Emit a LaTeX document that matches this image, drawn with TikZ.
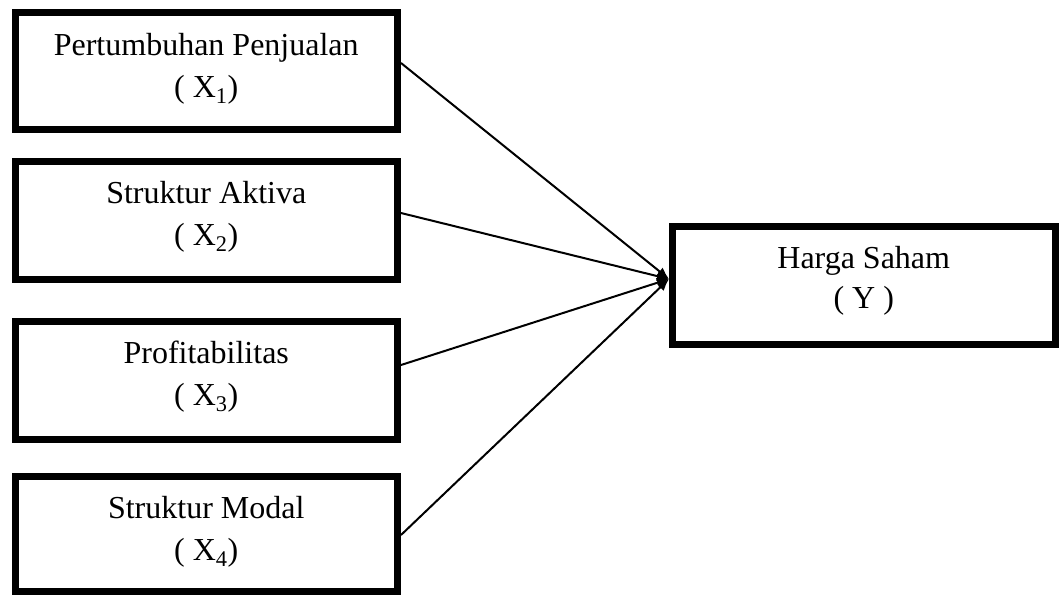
\documentclass[tikz,border=0pt]{standalone}
\usepackage{fontspec}
\setmainfont{Liberation Serif}
\usetikzlibrary{arrows.meta}
\tikzset{
  varbox/.style={draw=black, line width=7pt, minimum width=382.5pt, inner sep=0pt, rectangle},
  boxtext/.style={anchor=base, inner sep=0pt, font=\fontsize{32}{42}\selectfont},
  conn/.style={line width=2pt, -{Latex[length=12pt,width=10pt]}}
}
\begin{document}
\begin{tikzpicture}[x=1pt,y=-1pt]
\useasboundingbox (0,0) rectangle (1063,595);
% boxes
\node[varbox, minimum height=117pt] (b1) at (206.25,70.5) {};
\node[varbox, minimum height=118pt] (b2) at (206.25,220.5) {};
\node[varbox, minimum height=118pt] (b3) at (206.25,380.5) {};
\node[varbox, minimum height=115pt] (b4) at (206.25,534) {};
\node[varbox, minimum height=118pt] (y) at (863.75,285) {};
% texts
\node[boxtext] (t1a) at ([yshift=-46.5pt]b1.north) {Pertumbuhan Penjualan};
\node[boxtext] (t1b) at ([yshift=-88.5pt]b1.north) {( X\textsubscript{1})};
\node[boxtext] (t2a) at ([yshift=-45.5pt]b2.north) {Struktur Aktiva};
\node[boxtext] (t2b) at ([yshift=-87.5pt]b2.north) {( X\textsubscript{2})};
\node[boxtext] (t3a) at ([yshift=-45.5pt]b3.north) {Profitabilitas};
\node[boxtext] (t3b) at ([yshift=-87.5pt]b3.north) {( X\textsubscript{3})};
\node[boxtext] (t4a) at ([yshift=-45.5pt]b4.north) {Struktur Modal};
\node[boxtext] (t4b) at ([yshift=-87.5pt]b4.north) {( X\textsubscript{4})};
\node[boxtext] (tya) at ([yshift=-45.5pt]y.north) {Harga Saham};
\node[boxtext] (tyb) at ([yshift=-85.5pt]y.north) {( Y )};
% connector ends
\coordinate (s1) at ([yshift=7.5pt]b1.east);
\coordinate (s2) at ([yshift=7.5pt]b2.east);
\coordinate (s3) at ([yshift=15.5pt]b3.east);
\coordinate (s4) at ([yshift=-1pt]b4.east);
\coordinate (tip) at ([yshift=6pt]y.west);
\draw[conn] (s1) -- (tip);
\draw[conn] (s2) -- (tip);
\draw[conn] (s3) -- (tip);
\draw[conn] (s4) -- (tip);
\end{tikzpicture}
\end{document}
